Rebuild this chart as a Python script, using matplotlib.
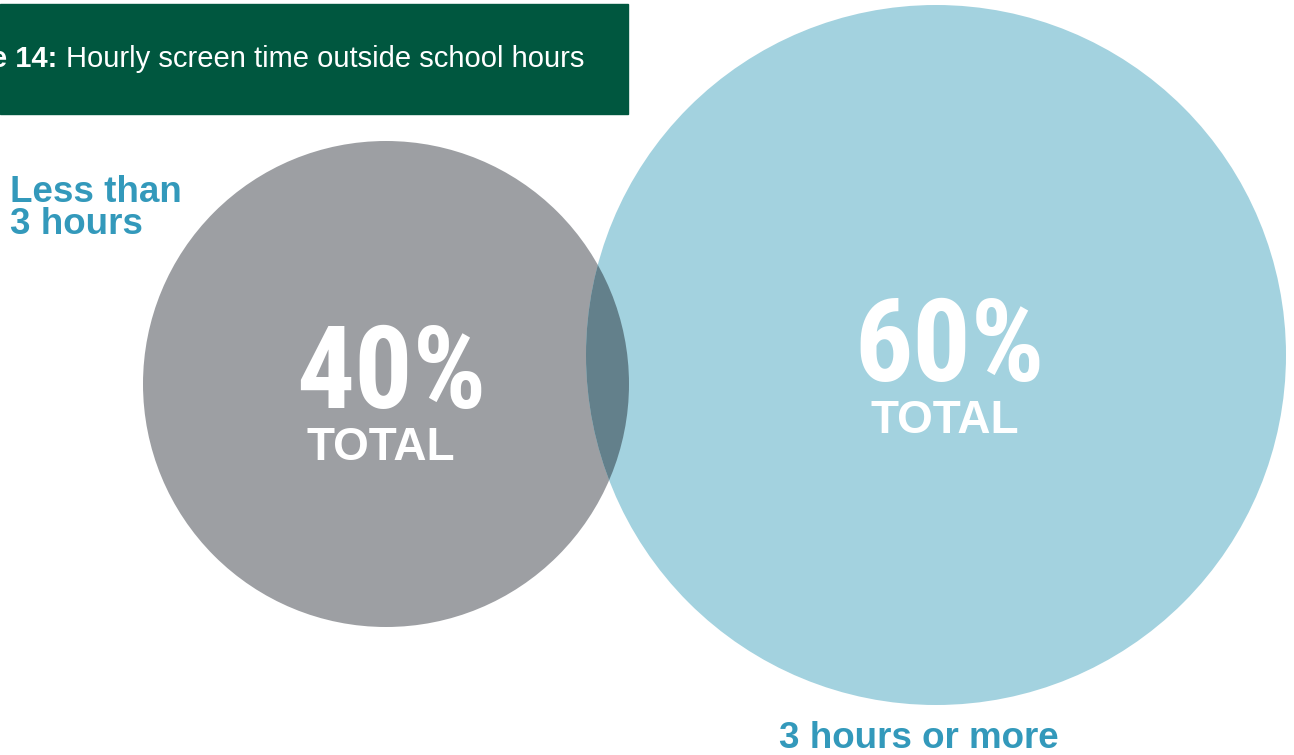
import matplotlib.pyplot as plt
from matplotlib.patches import Circle, Rectangle

# Share of pupils by daily screen time outside school hours
groups = ['Less than\n3 hours', '3 hours or more']
shares = [40, 60]
title_prefix = 'Figure 14:'
title_text = 'Hourly screen time outside school hours'

W, H = 1294, 755
GREEN = '#00573f'
GREY = '#9d9fa3'
BLUE = '#a3d2df'
OVERLAP = '#63808b'
LABEL_BLUE = '#3399bb'

# bubble placement (pixels, y grows downward)
centres = [(386, 384), (936, 355)]
radii = [243, 350]
pct_pos = [(391, 408), (950, 381)]     # baseline of the big percentage
total_pos = [(381, 460), (945, 433)]   # baseline of "TOTAL"

plt.rcParams['font.family'] = ['Liberation Sans', 'DejaVu Sans']

fig = plt.figure(figsize=(W / 100, H / 100), dpi=100)
ax = fig.add_axes([0, 0, 1, 1])
ax.set_xlim(0, W)
ax.set_ylim(H, 0)
ax.axis('off')

# header band
ax.add_patch(Rectangle((0, 4), 628, 110, color=GREEN, zorder=1))
ax.text(57, 67, title_prefix, color='white', fontsize=21, fontweight='bold',
        ha='right', va='baseline', zorder=2)
ax.text(66, 67, title_text, color='white', fontsize=21,
        ha='left', va='baseline', zorder=2)

# bubbles
circles = []
for (cx, cy), r, col in zip(centres, radii, [GREY, BLUE]):
    c = Circle((cx, cy), r, color=col, lw=0, zorder=1)
    ax.add_patch(c)
    circles.append(c)

# darker lens where the two bubbles overlap
lens = Circle(centres[1], radii[1], color=OVERLAP, lw=0, zorder=2)
ax.add_patch(lens)
lens.set_clip_path(circles[0])

for share, (px, py), (tx, ty) in zip(shares, pct_pos, total_pos):
    ax.text(px, py, f'{share}%', color='white', fontsize=83, fontweight='bold',
            family=['Roboto Condensed', 'DejaVu Sans'],
            ha='center', va='baseline', zorder=3)
    ax.text(tx, ty, 'TOTAL', color='white', fontsize=33, fontweight='bold',
            ha='center', va='baseline', zorder=3)

# group labels
ax.text(10, 234, groups[0], color=LABEL_BLUE, fontsize=26.5, fontweight='bold',
        ha='left', va='baseline', linespacing=0.88, zorder=3)
ax.text(919, 748, groups[1], color=LABEL_BLUE, fontsize=26.5, fontweight='bold',
        ha='center', va='baseline', zorder=3)

fig.savefig('out.png', dpi=100, facecolor='white')
